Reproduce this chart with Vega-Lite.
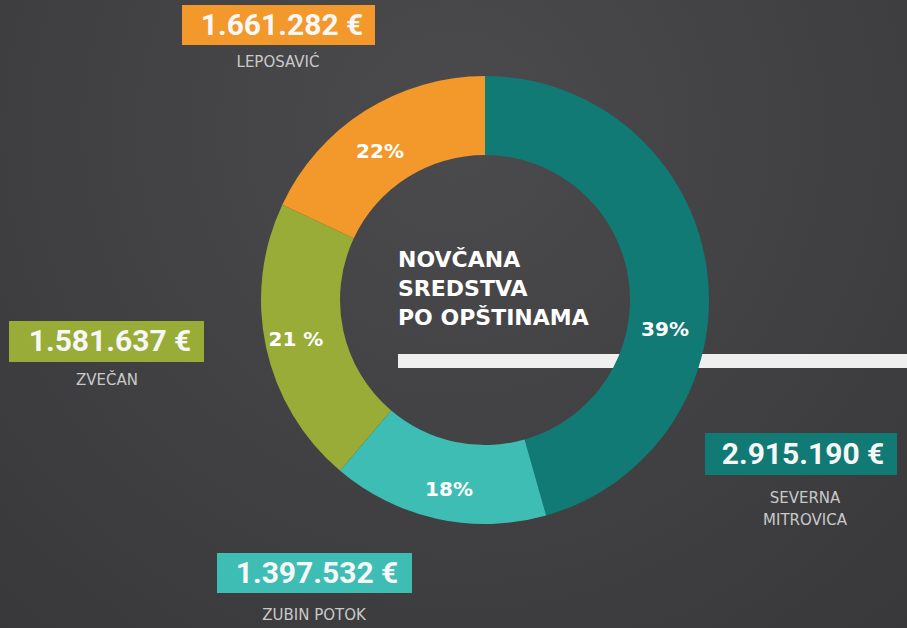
{
  "$schema": "https://vega.github.io/schema/vega-lite/v6.json",
  "width": 907,
  "height": 628,
  "autosize": {"type": "none"},
  "padding": 0,
  "background": "#434345",
  "config": {"view": {"stroke": null}},
  "data": {
    "values": [
      {"name": "Severna Mitrovica", "order": 1, "amount": 2915190, "amount_label": "2.915.190 €", "pct_label": "39%", "caption": "SEVERNA\nMITROVICA", "arc_share": 45.6},
      {"name": "Zubin Potok", "order": 2, "amount": 1397532, "amount_label": "1.397.532 €", "pct_label": "18%", "caption": "ZUBIN POTOK", "arc_share": 15.6},
      {"name": "Zvečan", "order": 3, "amount": 1581637, "amount_label": "1.581.637 €", "pct_label": "21 %", "caption": "ZVEČAN", "arc_share": 20.8},
      {"name": "Leposavić", "order": 4, "amount": 1661282, "amount_label": "1.661.282 €", "pct_label": "22%", "caption": "LEPOSAVIĆ", "arc_share": 18.0}
    ]
  },
  "layer": [
    {
      "data": {"values": [{}]},
      "mark": {"type": "rect", "fill": {"gradient": "radial", "x1": 0.5, "y1": 0.3, "r1": 0, "x2": 0.5, "y2": 0.3, "r2": 0.75, "stops": [{"offset": 0, "color": "#4b4b4d"}, {"offset": 1, "color": "#38383a"}]}},
      "encoding": {
        "x": {"datum": 0, "type": "quantitative", "scale": {"domain": [0, 907], "nice": false, "zero": false}, "axis": null},
        "x2": {"datum": 907},
        "y": {"datum": 0, "type": "quantitative", "scale": {"domain": [0, 628], "reverse": true, "nice": false, "zero": false}, "axis": null},
        "y2": {"datum": 628}
      }
    },
    {
      "data": {"values": [{}]},
      "mark": {"type": "rule", "color": "#efefef", "strokeWidth": 14},
      "encoding": {
        "x": {"datum": 398, "type": "quantitative", "scale": {"domain": [0, 907], "nice": false, "zero": false}, "axis": null},
        "x2": {"datum": 907},
        "y": {"datum": 361, "type": "quantitative", "scale": {"domain": [0, 628], "reverse": true, "nice": false, "zero": false}, "axis": null}
      }
    },
    {
      "mark": {"type": "arc", "innerRadius": 145, "outerRadius": 224},
      "encoding": {
        "theta": {"field": "arc_share", "type": "quantitative", "stack": true},
        "order": {"field": "order", "type": "quantitative"},
        "color": {"field": "name", "type": "nominal", "legend": null, "scale": {"domain": ["Severna Mitrovica", "Zubin Potok", "Zvečan", "Leposavić"], "range": ["#117a74", "#3ebdb5", "#98ac37", "#f3982b"]}},
        "x": {"datum": 485, "type": "quantitative", "scale": {"domain": [0, 907], "nice": false, "zero": false}, "axis": null},
        "y": {"datum": 300, "type": "quantitative", "scale": {"domain": [0, 628], "reverse": true, "nice": false, "zero": false}, "axis": null}
      }
    },
    {
      "data": {"values": [{}]},
      "mark": {"type": "text", "text": ["NOVČANA", "SREDSTVA", "PO OPŠTINAMA"], "font": "DejaVu Sans", "fontWeight": "bold", "fontSize": 22, "lineHeight": 29, "align": "left", "baseline": "middle", "color": "#ffffff"},
      "encoding": {
        "x": {"datum": 398, "type": "quantitative", "scale": {"domain": [0, 907], "nice": false, "zero": false}, "axis": null},
        "y": {"datum": 260, "type": "quantitative", "scale": {"domain": [0, 628], "reverse": true, "nice": false, "zero": false}, "axis": null}
      }
    },
    {
      "transform": [{"filter": "datum.order == 1"}],
      "layer": [
        {
          "mark": {"type": "rect"},
          "encoding": {
            "x": {"datum": 705, "type": "quantitative", "scale": {"domain": [0, 907], "nice": false, "zero": false}, "axis": null},
            "x2": {"datum": 897},
            "y": {"datum": 433, "type": "quantitative", "scale": {"domain": [0, 628], "reverse": true, "nice": false, "zero": false}, "axis": null},
            "y2": {"datum": 475},
            "color": {"field": "name", "type": "nominal", "legend": null, "scale": {"domain": ["Severna Mitrovica", "Zubin Potok", "Zvečan", "Leposavić"], "range": ["#117a74", "#3ebdb5", "#98ac37", "#f3982b"]}}
          }
        },
        {
          "mark": {"type": "text", "font": "Roboto", "fontWeight": "bold", "fontSize": 30, "align": "center", "baseline": "middle", "color": "#f7f7f7"},
          "encoding": {
            "x": {"datum": 803, "type": "quantitative", "scale": {"domain": [0, 907], "nice": false, "zero": false}, "axis": null},
            "y": {"datum": 455, "type": "quantitative", "scale": {"domain": [0, 628], "reverse": true, "nice": false, "zero": false}, "axis": null},
            "text": {"field": "amount_label", "type": "nominal"}
          }
        },
        {
          "mark": {"type": "text", "font": "DejaVu Sans", "fontSize": 15, "lineBreak": "\n", "lineHeight": 22, "align": "center", "baseline": "middle", "color": "#c9c9c9"},
          "encoding": {
            "x": {"datum": 805, "type": "quantitative", "scale": {"domain": [0, 907], "nice": false, "zero": false}, "axis": null},
            "y": {"datum": 498, "type": "quantitative", "scale": {"domain": [0, 628], "reverse": true, "nice": false, "zero": false}, "axis": null},
            "text": {"field": "caption", "type": "nominal"}
          }
        },
        {
          "mark": {"type": "text", "font": "DejaVu Sans", "fontWeight": "bold", "fontSize": 20, "align": "center", "baseline": "middle", "color": "#ffffff"},
          "encoding": {
            "x": {"datum": 665, "type": "quantitative", "scale": {"domain": [0, 907], "nice": false, "zero": false}, "axis": null},
            "y": {"datum": 330, "type": "quantitative", "scale": {"domain": [0, 628], "reverse": true, "nice": false, "zero": false}, "axis": null},
            "text": {"field": "pct_label", "type": "nominal"}
          }
        }
      ]
    },
    {
      "transform": [{"filter": "datum.order == 2"}],
      "layer": [
        {
          "mark": {"type": "rect"},
          "encoding": {
            "x": {"datum": 217, "type": "quantitative", "scale": {"domain": [0, 907], "nice": false, "zero": false}, "axis": null},
            "x2": {"datum": 412},
            "y": {"datum": 553, "type": "quantitative", "scale": {"domain": [0, 628], "reverse": true, "nice": false, "zero": false}, "axis": null},
            "y2": {"datum": 593},
            "color": {"field": "name", "type": "nominal", "legend": null, "scale": {"domain": ["Severna Mitrovica", "Zubin Potok", "Zvečan", "Leposavić"], "range": ["#117a74", "#3ebdb5", "#98ac37", "#f3982b"]}}
          }
        },
        {
          "mark": {"type": "text", "font": "Roboto", "fontWeight": "bold", "fontSize": 30, "align": "center", "baseline": "middle", "color": "#f7f7f7"},
          "encoding": {
            "x": {"datum": 317, "type": "quantitative", "scale": {"domain": [0, 907], "nice": false, "zero": false}, "axis": null},
            "y": {"datum": 574, "type": "quantitative", "scale": {"domain": [0, 628], "reverse": true, "nice": false, "zero": false}, "axis": null},
            "text": {"field": "amount_label", "type": "nominal"}
          }
        },
        {
          "mark": {"type": "text", "font": "DejaVu Sans", "fontSize": 15, "align": "center", "baseline": "middle", "color": "#c9c9c9"},
          "encoding": {
            "x": {"datum": 314, "type": "quantitative", "scale": {"domain": [0, 907], "nice": false, "zero": false}, "axis": null},
            "y": {"datum": 615, "type": "quantitative", "scale": {"domain": [0, 628], "reverse": true, "nice": false, "zero": false}, "axis": null},
            "text": {"field": "caption", "type": "nominal"}
          }
        },
        {
          "mark": {"type": "text", "font": "DejaVu Sans", "fontWeight": "bold", "fontSize": 20, "align": "center", "baseline": "middle", "color": "#ffffff"},
          "encoding": {
            "x": {"datum": 449, "type": "quantitative", "scale": {"domain": [0, 907], "nice": false, "zero": false}, "axis": null},
            "y": {"datum": 490, "type": "quantitative", "scale": {"domain": [0, 628], "reverse": true, "nice": false, "zero": false}, "axis": null},
            "text": {"field": "pct_label", "type": "nominal"}
          }
        }
      ]
    },
    {
      "transform": [{"filter": "datum.order == 3"}],
      "layer": [
        {
          "mark": {"type": "rect"},
          "encoding": {
            "x": {"datum": 9, "type": "quantitative", "scale": {"domain": [0, 907], "nice": false, "zero": false}, "axis": null},
            "x2": {"datum": 204},
            "y": {"datum": 321, "type": "quantitative", "scale": {"domain": [0, 628], "reverse": true, "nice": false, "zero": false}, "axis": null},
            "y2": {"datum": 362},
            "color": {"field": "name", "type": "nominal", "legend": null, "scale": {"domain": ["Severna Mitrovica", "Zubin Potok", "Zvečan", "Leposavić"], "range": ["#117a74", "#3ebdb5", "#98ac37", "#f3982b"]}}
          }
        },
        {
          "mark": {"type": "text", "font": "Roboto", "fontWeight": "bold", "fontSize": 30, "align": "center", "baseline": "middle", "color": "#f7f7f7"},
          "encoding": {
            "x": {"datum": 110, "type": "quantitative", "scale": {"domain": [0, 907], "nice": false, "zero": false}, "axis": null},
            "y": {"datum": 342, "type": "quantitative", "scale": {"domain": [0, 628], "reverse": true, "nice": false, "zero": false}, "axis": null},
            "text": {"field": "amount_label", "type": "nominal"}
          }
        },
        {
          "mark": {"type": "text", "font": "DejaVu Sans", "fontSize": 15, "align": "center", "baseline": "middle", "color": "#c9c9c9"},
          "encoding": {
            "x": {"datum": 107, "type": "quantitative", "scale": {"domain": [0, 907], "nice": false, "zero": false}, "axis": null},
            "y": {"datum": 380, "type": "quantitative", "scale": {"domain": [0, 628], "reverse": true, "nice": false, "zero": false}, "axis": null},
            "text": {"field": "caption", "type": "nominal"}
          }
        },
        {
          "mark": {"type": "text", "font": "DejaVu Sans", "fontWeight": "bold", "fontSize": 20, "align": "center", "baseline": "middle", "color": "#ffffff"},
          "encoding": {
            "x": {"datum": 296, "type": "quantitative", "scale": {"domain": [0, 907], "nice": false, "zero": false}, "axis": null},
            "y": {"datum": 340, "type": "quantitative", "scale": {"domain": [0, 628], "reverse": true, "nice": false, "zero": false}, "axis": null},
            "text": {"field": "pct_label", "type": "nominal"}
          }
        }
      ]
    },
    {
      "transform": [{"filter": "datum.order == 4"}],
      "layer": [
        {
          "mark": {"type": "rect"},
          "encoding": {
            "x": {"datum": 182, "type": "quantitative", "scale": {"domain": [0, 907], "nice": false, "zero": false}, "axis": null},
            "x2": {"datum": 375},
            "y": {"datum": 5, "type": "quantitative", "scale": {"domain": [0, 628], "reverse": true, "nice": false, "zero": false}, "axis": null},
            "y2": {"datum": 45},
            "color": {"field": "name", "type": "nominal", "legend": null, "scale": {"domain": ["Severna Mitrovica", "Zubin Potok", "Zvečan", "Leposavić"], "range": ["#117a74", "#3ebdb5", "#98ac37", "#f3982b"]}}
          }
        },
        {
          "mark": {"type": "text", "font": "Roboto", "fontWeight": "bold", "fontSize": 30, "align": "center", "baseline": "middle", "color": "#f7f7f7"},
          "encoding": {
            "x": {"datum": 282, "type": "quantitative", "scale": {"domain": [0, 907], "nice": false, "zero": false}, "axis": null},
            "y": {"datum": 26, "type": "quantitative", "scale": {"domain": [0, 628], "reverse": true, "nice": false, "zero": false}, "axis": null},
            "text": {"field": "amount_label", "type": "nominal"}
          }
        },
        {
          "mark": {"type": "text", "font": "DejaVu Sans", "fontSize": 15, "align": "center", "baseline": "middle", "color": "#c9c9c9"},
          "encoding": {
            "x": {"datum": 278, "type": "quantitative", "scale": {"domain": [0, 907], "nice": false, "zero": false}, "axis": null},
            "y": {"datum": 62, "type": "quantitative", "scale": {"domain": [0, 628], "reverse": true, "nice": false, "zero": false}, "axis": null},
            "text": {"field": "caption", "type": "nominal"}
          }
        },
        {
          "mark": {"type": "text", "font": "DejaVu Sans", "fontWeight": "bold", "fontSize": 20, "align": "center", "baseline": "middle", "color": "#ffffff"},
          "encoding": {
            "x": {"datum": 380, "type": "quantitative", "scale": {"domain": [0, 907], "nice": false, "zero": false}, "axis": null},
            "y": {"datum": 152, "type": "quantitative", "scale": {"domain": [0, 628], "reverse": true, "nice": false, "zero": false}, "axis": null},
            "text": {"field": "pct_label", "type": "nominal"}
          }
        }
      ]
    }
  ]
}
